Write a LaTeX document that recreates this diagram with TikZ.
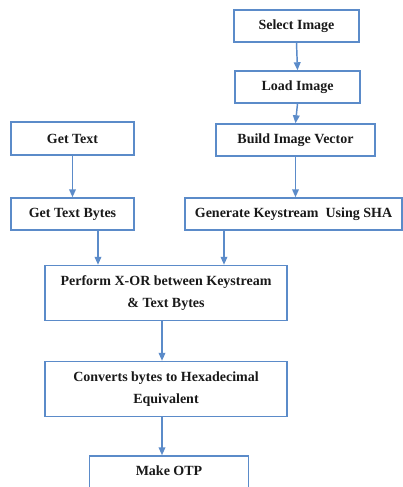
\documentclass[tikz,border=0pt]{standalone}
\usepackage{fontspec}
\setmainfont{Liberation Serif}
\usetikzlibrary{arrows.meta,calc}
\definecolor{boxblue}{HTML}{5B8BC9}
\begin{document}
\begin{tikzpicture}[x=0.75pt,y=-0.75pt,
  box/.style={draw=boxblue,line width=1.1pt,rectangle,inner sep=0pt,
    font=\bfseries\fontsize{10.5}{17}\selectfont,align=center,text=black!90},
  arr/.style={draw=boxblue,line width=1.1pt,-{Triangle[length=6pt,width=5pt]}}]
\useasboundingbox (0,0) rectangle (403,487);
\clip (0,0) rectangle (403,487);
\node[box,minimum width=125*0.75pt,minimum height=32*0.75pt] (sel) at (296.5,26) {Select Image};
\node[box,minimum width=125*0.75pt,minimum height=32*0.75pt] (load) at (297.5,87) {Load Image};
\node[box,minimum width=159*0.75pt,minimum height=32*0.75pt] (build) at (295.5,140) {Build Image Vector};
\node[box,minimum width=123*0.75pt,minimum height=33*0.75pt] (gt) at (72.5,138.5) {Get Text};
\node[box,minimum width=123*0.75pt,minimum height=32*0.75pt] (gtb) at (72.5,214) {Get Text Bytes};
\node[box,minimum width=217*0.75pt,minimum height=32*0.75pt] (gen) at (293.5,214) {Generate Keystream\ \ Using SHA};
\node[box,minimum width=242*0.75pt,minimum height=55*0.75pt] (xor) at (166,293) {Perform X-OR between Keystream\\\& Text Bytes};
\node[box,minimum width=242*0.75pt,minimum height=55*0.75pt] (conv) at (166,389) {Converts bytes to Hexadecimal\\Equivalent};
\node[box,minimum width=159*0.75pt,minimum height=33*0.75pt,text depth=0pt] (otp) at (169,472.5) {\raisebox{2.5pt}{Make OTP}};
\draw[arr] (sel.south) -- (load.north);
\draw[arr] (load.south) -- (build.north);
\draw[arr] (build.south) -- (build.south |- gen.north);
\draw[arr] (gt.south) -- (gtb.north);
\draw[arr] ([xshift=25.5*0.75pt]gtb.south) coordinate (a1) -- (a1 |- xor.north);
\draw[arr] ([xshift=-69.5*0.75pt]gen.south) coordinate (a2) -- (a2 |- xor.north);
\draw[arr] ([xshift=-4*0.75pt]xor.south) coordinate (a3) -- (a3 |- conv.north);
\draw[arr] ([xshift=-4*0.75pt]conv.south) coordinate (a4) -- (a4 |- otp.north);
\end{tikzpicture}
\end{document}
